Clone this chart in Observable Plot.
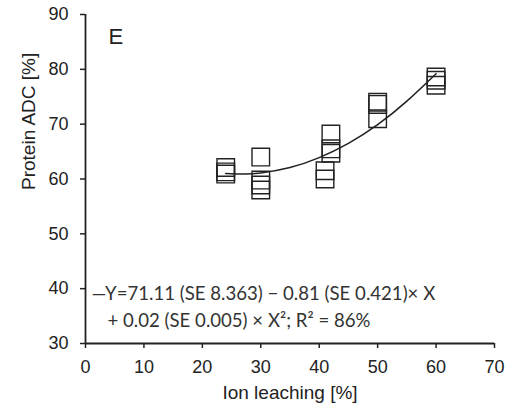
<!DOCTYPE html>
<html>
<head>
<meta charset="utf-8">
<script src="https://cdn.jsdelivr.net/npm/d3@7"></script>
<script src="https://cdn.jsdelivr.net/npm/@observablehq/plot@0.6"></script>
<style>
  html, body { margin: 0; padding: 0; background: #fff; }
</style>
</head>
<body>
<div id="chart"></div>
<script>
// Observed points: ion leaching (%) and protein ADC (%)
const leachX = [24, 24, 24, 30, 30, 30, 30, 41, 41, 42, 42, 42, 50, 50, 50, 60, 60, 60];
const adcY   = [62.1, 61.3, 60.9, 64.0, 59.8, 58.9, 58.0, 61.5, 60.0, 68.2, 65.5, 64.7, 74.0, 73.6, 71.0, 78.6, 78.0, 77.1];
// Fitted curve
const curveX = [24, 27, 30, 35, 40, 45, 50, 55, 60];
const curveY = [61.0, 60.9, 61.1, 62.1, 63.9, 66.5, 69.9, 74.2, 79.2];
const xTicks = [0, 10, 20, 30, 40, 50, 60, 70];
const yTicks = [30, 40, 50, 60, 70, 80, 90];
const panelLabel = "E";
const xTitle = "Ion leaching [%]";
const yTitle = "Protein ADC [%]";
const eqLine1 = "\u2014Y=71.11 (SE 8.363) \u2212 0.81 (SE 0.421)\u00d7 X";
const eqLine2 = "+ 0.02 (SE 0.005) \u00d7 X\u00b2; R\u00b2 = 86%";

const points = leachX.map((x, i) => ({x, y: adcY[i]}));
const curve = curveX.map((x, i) => ({x, y: curveY[i]}));

const ink = "#222";
const chart = Plot.plot({
  width: 506,
  height: 412,
  marginLeft: 85,
  marginRight: 12,
  marginTop: 14,
  marginBottom: 69,
  style: {fontFamily: "'Liberation Sans', Arial, sans-serif", fontSize: "18px", color: ink, background: "#fff", overflow: "visible"},
  x: {domain: [0, 70]},
  y: {domain: [30, 90]},
  marks: [
    Plot.axisX({ticks: xTicks, tickSize: 5, tickPadding: 12, label: null, stroke: ink, strokeWidth: 1.5, fontSize: 18}),
    Plot.axisY({ticks: yTicks, tickSize: 5, tickPadding: 12, label: null, stroke: ink, strokeWidth: 1.5, fontSize: 18}),
    Plot.ruleY([30], {stroke: ink, strokeWidth: 1.8}),
    Plot.ruleX([0], {stroke: ink, strokeWidth: 1.8}),
    Plot.line(curve, {x: "x", y: "y", curve: "natural", stroke: ink, strokeWidth: 1.6}),
    Plot.dot(points, {x: "x", y: "y", symbol: "square", r: 9.9, stroke: ink, strokeWidth: 1.4, fill: "none"}),
    Plot.text([panelLabel], {frameAnchor: "top-left", dx: 23, dy: 14, textAnchor: "start", fontSize: 22, fill: ink}),
    Plot.text([eqLine1], {frameAnchor: "bottom-left", dx: 6, dy: -44, textAnchor: "start", fontSize: 18.6, fill: "#333", fontFamily: "Lato, 'Open Sans', sans-serif"}),
    Plot.text([eqLine2], {frameAnchor: "bottom-left", dx: 22, dy: -17, textAnchor: "start", fontSize: 18.6, fill: "#333", fontFamily: "Lato, 'Open Sans', sans-serif"}),
    Plot.text([xTitle], {frameAnchor: "bottom", dy: 55, fontSize: 19, fill: ink}),
    Plot.text([yTitle], {frameAnchor: "left", dx: -57, dy: 11, rotate: -90, fontSize: 19, fill: ink})
  ]
});
document.getElementById("chart").appendChild(chart);
</script>
</body>
</html>
